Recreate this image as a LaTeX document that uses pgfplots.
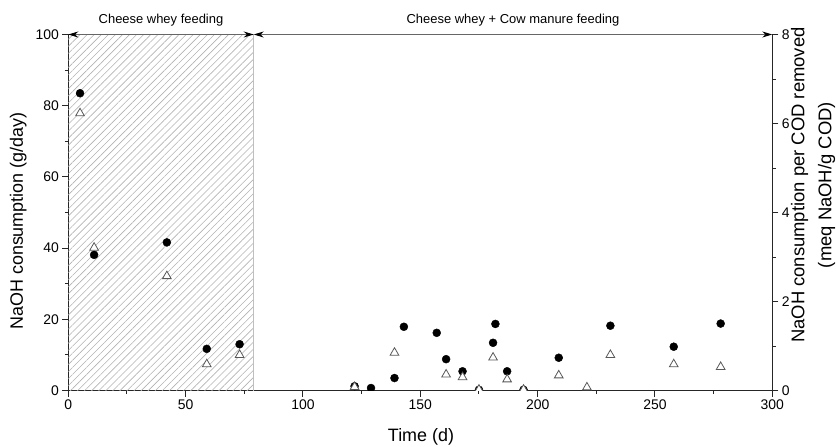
\documentclass[border=0pt]{standalone}
\usepackage{fontspec}
\setmainfont{Liberation Sans}
\usepackage{pgfplots}
\pgfplotsset{compat=1.18}
\usetikzlibrary{patterns.meta,arrows.meta,calc}

\begin{document}
\begin{tikzpicture}
\pgfplotsset{
  common/.style={
    scale only axis, width=704bp, height=356bp,
    xmin=0, xmax=300,
    axis line style={line width=1.1bp, black!85},
    tick style={line width=1bp, black!85},
    major tick length=6bp, minor tick length=3.5bp,
    tick align=outside,
    tick label style={font=\fontsize{14}{16}\selectfont},
    /pgf/number format/assume math mode=true,
    label style={font=\fontsize{18}{26}\selectfont},
  }
}
% NaOH consumption (g/day), left axis
\begin{axis}[common,
  axis x line*=bottom, axis y line*=left,
  ymin=0, ymax=100,
  ytick={0,20,...,100}, minor ytick={10,30,...,90},
  xtick={0,50,...,300}, minor xtick={25,75,...,275},
  xlabel={Time (d)}, ylabel={NaOH consumption (g/day)},
  xlabel style={at={(axis description cs:0.501,0)}, anchor=center, yshift=-46.5bp},
  ylabel style={at={(axis description cs:-0.071,0.476)}, anchor=center},
  clip marker paths=true,
]
  % cheese whey only period
  \fill[pattern={Lines[angle=45,distance=5bp,line width=0.6bp]}, pattern color=black!30]
    (axis cs:0,0) rectangle (axis cs:79,100);
  \draw[black!25, line width=0.8bp] (axis cs:79,0) -- (axis cs:79,100);
  \addplot[only marks, mark=*, mark size=4bp, mark options={fill=black, draw=black}]
    coordinates {
      (5,83.5) (11,38.1) (42,41.6) (59,11.7) (73,13.0)
      (122,1.2) (129,0.7) (139,3.5) (143,17.9) (157,16.2)
      (161,8.8) (168,5.4) (175,0.2) (181,13.4) (182,18.7)
      (187,5.4) (194,0.2) (209,9.2) (231,18.2) (258,12.3) (278,18.8)
    };
  \coordinate (bl) at (rel axis cs:0,0);
  \coordinate (tr) at (rel axis cs:1,1);
  \coordinate (p0) at (axis cs:0,100);
  \coordinate (p1) at (axis cs:79,100);
  \coordinate (p2) at (axis cs:300,100);
\end{axis}

% NaOH consumption per COD removed, right axis
\begin{axis}[common,
  axis x line=none, axis y line*=right,
  ymin=0, ymax=8,
  ytick={0,2,...,8}, minor ytick={1,3,5,7},
  ylabel={NaOH consumption per COD removed\\(meq NaOH/g COD)},
  ylabel style={at={(axis description cs:1.058,0.577)}, anchor=center, align=center,
    font=\fontsize{18.5}{27}\selectfont},
  clip marker paths=true,
]
  \addplot[only marks, mark=triangle*, mark size=5bp,
    mark options={fill=white, draw=black!65, line width=0.8bp}]
    coordinates {
      (5,6.23) (11,3.21) (42,2.57) (59,0.59) (73,0.80)
      (122,0.08) (139,0.85) (161,0.36) (168,0.30) (175,0.02)
      (181,0.74) (187,0.25) (194,0.02) (209,0.34) (221,0.07)
      (231,0.80) (258,0.59) (278,0.53)
    };
\end{axis}

% feeding periods
\draw[black!60, line width=1bp, {Stealth[length=10bp,width=6bp,black]}-{Stealth[length=10bp,width=6bp,black]}]
  (p0) -- (p1);
\draw[black!60, line width=1bp, {Stealth[length=10bp,width=6bp,black]}-{Stealth[length=10bp,width=6bp,black]}]
  (p1) -- (p2);
\node[font=\fontsize{13}{15}\selectfont] at ($(p0)!0.5!(p1)+(0,14.5bp)$) {Cheese whey feeding};
\node[font=\fontsize{13}{15}\selectfont] at ($(p1)!0.5!(p2)+(0,14.5bp)$) {Cheese whey + Cow manure feeding};

\pgfresetboundingbox
\path[use as bounding box] ([shift={(-68.3bp,-56.5bp)}]bl) rectangle ([shift={(63.7bp,34.5bp)}]tr);
\end{tikzpicture}
\end{document}
